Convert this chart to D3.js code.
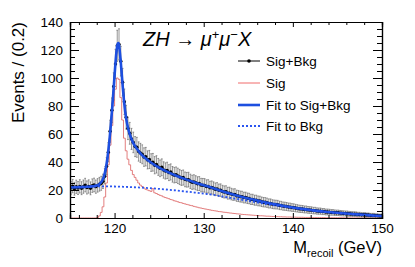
<!DOCTYPE html>
<html><head><meta charset="utf-8">
<script src="https://cdn.jsdelivr.net/npm/d3@7"></script>
<style>body{margin:0;background:#fff}svg{display:block}text{font-family:"Liberation Sans",Arial,Helvetica,sans-serif}</style>
</head><body><svg id="c" width="415" height="267"></svg>
<script>
// ---- data ----
const xDomain = [115, 150];
const binWidth = 0.2;
const yDomain = [0, 140];
const yTicks = [0, 20, 40, 60, 80, 100, 120, 140];
const xTicks = [120, 130, 140, 150];
const legendLabels = ["Sig+Bkg", "Sig", "Fit to Sig+Bkg", "Fit to Bkg"];

// Sig+Bkg pseudo-data, events per 0.2 GeV bin (115.0 ... 150.0)
const dataVals = [
  21.5,22.8,20.9,22.3,21.4, 22.6,21.3,22.4,23.5,21.8, 22.5,21.2,23.1,23.6,22.4,
  23.3,24.1,24.8,26.2,29.8, 37,47,62,77,94, 110,123,124,112,97,
  83,72,64,60.5,56.5, 54,51,50.5,47.5,46.5, 45.5,43.5,43.8,41.5,41.8,
  39.6,39.8,37.7,38.3,36.5, 35.5,36.2,34.3,33.6,34.0, 32.4,32.9,31.2,30.6,30.9,
  30.1,29.3,28.6,28.9,27.6, 27.3,27.4,26.2,25.5,25.8, 25.2,24.5,24.6,23.5,23.4,
  23.3,22.5,22.6,21.6,21.8, 21.2,20.5,20.7,19.8,19.9, 19.0,18.6,18.7,17.7,17.8,
  17.1,16.7,16.8,15.9,15.7, 15.3,15.2,14.6,14.6,14.1, 13.9,13.3,13.3,12.7,12.7,
  12.2,12.1,11.6,11.3,11.2, 10.9,10.4,10.4,9.9,9.7, 9.6,9.5,9.0,8.9,8.5,
  8.4,8.2,7.9,7.8,7.5, 7.4,7.1,6.9,6.6,6.5, 6.4,6.1,6.1,5.8,5.7,
  5.6,5.3,5.3,5.0,4.9, 4.9,4.6,4.6,4.3,4.3, 4.2,4.0,4.0,3.8,3.7,
  3.7,3.5,3.4,3.3,3.2, 3.2,3.0,2.9,2.8,2.8, 2.7,2.5,2.5,2.3,2.3,
  2.3,2.1,2.1,1.9,1.9, 1.9,1.7,1.7,1.5,1.5
];

// Signal histogram, events per 0.2 GeV bin
const sigVals = [
  0,0,0,0,0, 0,0,0,0,0, 0,0,0,0,0,
  0.3,1.5,4,8,15, 25,38,52,66,80, 92,100,99,86,70,
  57,48,42,38,34, 31,29,27,25,23.5, 22.5,21.5,20.5,20,19.5,
  19,21,18,17.5,16.8, 16.2,15.8,15.1,14.6,14.2, 13.8,13.2,12.9,12.3,12.0,
  11.6,11.1,10.9,10.4,10.1, 9.7,9.4,9.0,8.8,8.3, 8.0,7.7,7.3,7.1,6.8,
  6.5,6.3,6.0,5.8,5.5, 5.3,5.1,4.9,4.6,4.5, 4.3,4.1,4.0,3.8,3.6,
  3.5,3.3,3.2,3.0,2.9, 2.8,2.6,2.5,2.4,2.3, 2.2,2.1,2.0,1.9,1.8,
  1.7,1.6,1.6,1.5,1.4, 1.3,1.3,1.2,1.1,1.1, 1.0,1.0,0.9,0.9,0.8,
  0.8,0.7,0.7,0.7,0.6, 0.6,0.6,0.5,0.5,0.5, 0.5,0.4,0.4,0.4,0.4,
  0.4,0.3,0.3,0.3,0.3, 0.3,0.3,0.3,0.2,0.2, 0.2,0.2,0.2,0.2,0.2,
  0.2,0.2,0.2,0.2,0.1, 0.1,0.1,0.1,0.1,0.1, 0.1,0.1,0.1,0.1,0.1,
  0.1,0.1,0.1,0.1,0.1, 0.1,0.1,0.1,0.1,0.1
];

// Fit to Sig+Bkg (GeV, events)
const fitSBx = [115,116,117,117.5,118,118.3,118.6,118.8,119,119.2,119.4,119.6,119.8,120,120.2,120.35,120.45,120.55,120.7,120.9,121.1,121.3,121.5,121.8,122.1,122.5,123,123.5,124,125,126,127,128,129,130,131,132,133,134,135,136,137,138,139,140,141,142,143,144,145,146,147,148,149,150];
const fitSBy = [21.8,22.0,22.3,22.6,23.2,24.2,26.5,29.5,35,43,54,68,84,102,118,124.5,125,121,111,95,81,71,64.5,58,53.5,49.5,45.5,42.5,40.0,36.0,32.8,30.0,27.6,25.4,23.4,21.5,19.3,17.4,15.6,14.0,12.5,11.0,9.8,8.6,7.5,6.5,5.7,4.9,4.3,3.7,3.2,2.7,2.3,1.8,1.4];

// Fit to Bkg (GeV, events)
const fitBx = [115,116,117,118,119,120,121,122,123,124,125,126,127,128,129,130,131,132,133,134,135,136,137,138,139,140,141,142,143,144,145,146,147,148,149,150];
const fitBy = [22.2,22.4,22.5,22.6,22.6,22.5,22.3,22.0,21.7,21.3,20.8,20.2,19.6,18.9,18.2,17.4,16.6,15.5,14.4,13.3,12.2,11.1,10.0,9.0,8.0,7.1,6.2,5.4,4.7,4.1,3.5,3.0,2.5,2.1,1.7,1.3];

// ---- drawing ----
const svg = d3.select("#c");
const L = 70, R = 382, T = 22, B = 218;
const x = d3.scaleLinear().domain(xDomain).range([L, R]);
const y = d3.scaleLinear().domain(yDomain).range([B, T]);

const colRed = "#e07070", colBlue = "#1d4fe0", colDot = "#2a55f0";

svg.append("defs").append("clipPath").attr("id", "clip")
  .append("rect").attr("x", L).attr("y", T).attr("width", R - L).attr("height", B - T);
const plot = svg.append("g").attr("clip-path", "url(#clip)");

// signal histogram (step)
const sigPts = sigVals.map((v, i) => [xDomain[0] + i * binWidth, v]);
sigPts.push([xDomain[1], sigVals[sigVals.length - 1]]);
plot.append("path")
  .attr("d", d3.line().x(d => x(d[0])).y(d => y(d[1])).curve(d3.curveStepAfter)(sigPts))
  .attr("fill", "none").attr("stroke", colRed).attr("stroke-width", 0.9);

// data error bars
const centers = dataVals.map((v, i) => xDomain[0] + (i + 0.5) * binWidth);
const eb = plot.append("g").attr("stroke", "#6a6a6a").attr("stroke-width", 0.7);
const halfW = (x(binWidth) - x(0)) / 2;
dataVals.forEach((v, i) => {
  const e = Math.sqrt(v);
  const cx = x(centers[i]);
  eb.append("line").attr("x1", cx).attr("x2", cx).attr("y1", y(v - e)).attr("y2", y(v + e));
  eb.append("line").attr("x1", cx - halfW).attr("x2", cx + halfW).attr("y1", y(v + e)).attr("y2", y(v + e));
  eb.append("line").attr("x1", cx - halfW).attr("x2", cx + halfW).attr("y1", y(v - e)).attr("y2", y(v - e));
});
// data line + dots
plot.append("path")
  .attr("d", d3.line().x((d, i) => x(centers[i])).y(d => y(d))(dataVals))
  .attr("fill", "none").attr("stroke", "#000").attr("stroke-width", 1.2);
plot.append("g").selectAll("circle").data(dataVals).join("circle")
  .attr("cx", (d, i) => x(centers[i])).attr("cy", d => y(d)).attr("r", 1.7).attr("fill", "#000");

// fits
plot.append("path")
  .attr("d", d3.line().x(d => x(d[0])).y(d => y(d[1])).curve(d3.curveMonotoneX)(fitSBx.map((v, i) => [v, fitSBy[i]])))
  .attr("fill", "none").attr("stroke", colBlue).attr("stroke-width", 2.6);
plot.append("path")
  .attr("d", d3.line().x(d => x(d[0])).y(d => y(d[1])).curve(d3.curveMonotoneX)(fitBx.map((v, i) => [v, fitBy[i]])))
  .attr("fill", "none").attr("stroke", colDot).attr("stroke-width", 1.8).attr("stroke-dasharray", "2,2");

// axes
const fontSize = 13.5;
function styleAxis(g) {
  g.select(".domain").attr("stroke", "#000").attr("stroke-width", 1.2);
  g.selectAll(".tick line").attr("stroke", "#000").attr("stroke-width", 1);
  g.selectAll("text").attr("font-size", fontSize).attr("fill", "#000")
    .attr("font-family", '"Liberation Sans",Arial,sans-serif');
}
const xMinor = d3.range(116, 150, 2).filter(v => !xTicks.includes(v));
const yMinor = d3.range(5, 140, 5).filter(v => !yTicks.includes(v));

// bottom
svg.append("g").attr("transform", `translate(0,${B})`)
  .call(d3.axisBottom(x).tickValues(xTicks).tickSize(-5).tickPadding(5).tickFormat(d3.format("d"))).call(styleAxis);
svg.append("g").attr("transform", `translate(0,${B})`)
  .call(d3.axisBottom(x).tickValues(xMinor).tickSize(-3).tickFormat("")).call(styleAxis);
// top
svg.append("g").attr("transform", `translate(0,${T})`)
  .call(d3.axisTop(x).tickValues(xTicks).tickSize(-5).tickFormat("")).call(styleAxis);
svg.append("g").attr("transform", `translate(0,${T})`)
  .call(d3.axisTop(x).tickValues(xMinor).tickSize(-3).tickFormat("")).call(styleAxis);
// left
svg.append("g").attr("transform", `translate(${L},0)`)
  .call(d3.axisLeft(y).tickValues(yTicks).tickSize(-9).tickPadding(7).tickFormat(d3.format("d"))).call(styleAxis);
svg.append("g").attr("transform", `translate(${L},0)`)
  .call(d3.axisLeft(y).tickValues(yMinor).tickSize(-5).tickFormat("")).call(styleAxis);
// right
svg.append("g").attr("transform", `translate(${R},0)`)
  .call(d3.axisRight(y).tickValues(yTicks).tickSize(-9).tickFormat("")).call(styleAxis);
svg.append("g").attr("transform", `translate(${R},0)`)
  .call(d3.axisRight(y).tickValues(yMinor).tickSize(-5).tickFormat("")).call(styleAxis);

// axis titles
svg.append("text").attr("transform", `translate(24,${T}) rotate(-90)`)
  .attr("text-anchor", "end").attr("font-size", 17).text("Events / (0.2)");
const xt = svg.append("text").attr("x", R).attr("y", 253).attr("text-anchor", "end").attr("font-size", 16.5);
xt.append("tspan").text("M");
xt.append("tspan").attr("font-size", 11).attr("dy", 4).text("recoil");
xt.append("tspan").attr("dy", -4).text(" (GeV)");

// title
const tt = svg.append("text").attr("x", 143).attr("y", 46).attr("font-size", 20)
  .attr("font-family", '"Liberation Serif","Times New Roman",serif').attr("font-style", "italic");
tt.append("tspan").text("ZH");
tt.append("tspan").attr("font-style", "normal").text(" \u2192 ");
tt.append("tspan").text("\u03BC");
tt.append("tspan").attr("font-style", "normal").attr("font-size", 13).attr("dy", -7).text("+");
tt.append("tspan").attr("dy", 7).text("\u03BC");
tt.append("tspan").attr("font-style", "normal").attr("font-size", 13).attr("dy", -7).text("\u2212");
tt.append("tspan").attr("dy", 7).text("X");

// legend
const lg = svg.append("g");
const rows = [61, 83, 105, 126];
const lx1 = 238, lx2 = 260;
legendLabels.forEach((lab, i) => {
  const yy = rows[i];
  const ln = lg.append("line").attr("x1", lx1).attr("x2", lx2).attr("y1", yy).attr("y2", yy);
  if (i === 0) { ln.attr("stroke", "#000").attr("stroke-width", 1);
    lg.append("circle").attr("cx", (lx1 + lx2) / 2).attr("cy", yy).attr("r", 1.8).attr("fill", "#000"); }
  if (i === 1) ln.attr("stroke", "#f06a6a").attr("stroke-width", 1);
  if (i === 2) ln.attr("stroke", colBlue).attr("stroke-width", 2.6);
  if (i === 3) ln.attr("stroke", colDot).attr("stroke-width", 1.8).attr("stroke-dasharray", "2,2");
  lg.append("text").attr("x", 266).attr("y", yy + 5).attr("font-size", 13.5).text(lab);
});
</script></body></html>
